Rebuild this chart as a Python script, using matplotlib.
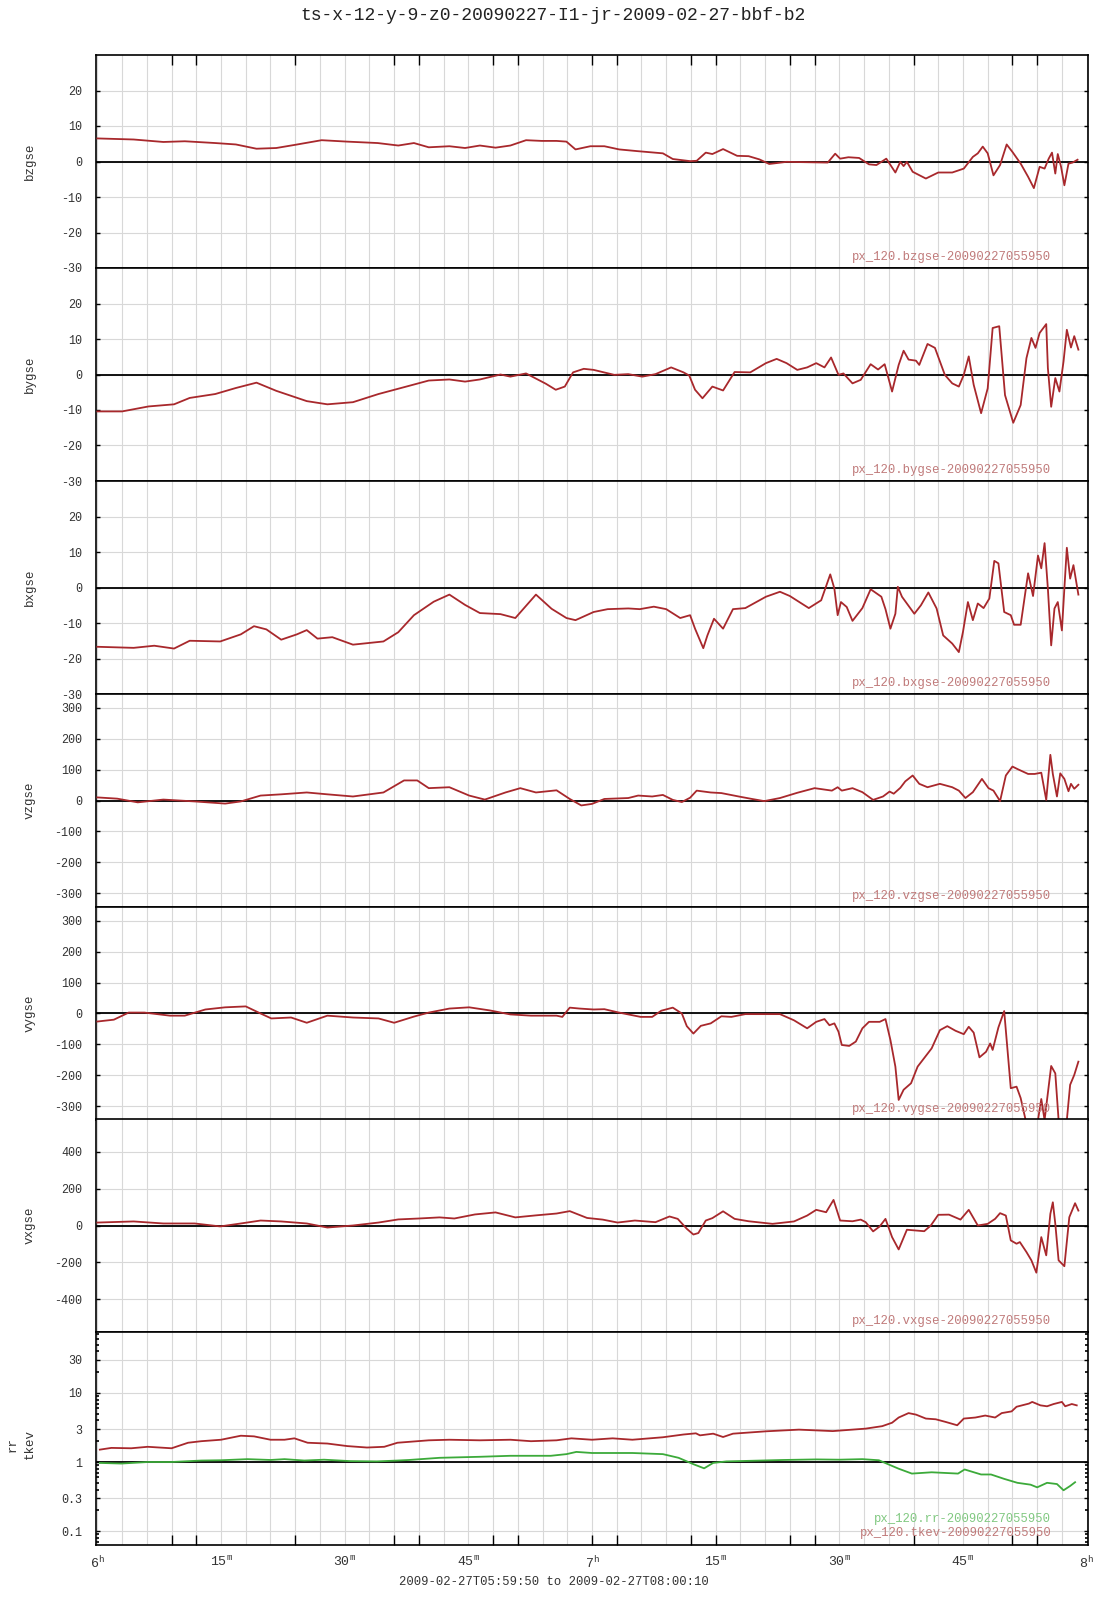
import matplotlib
matplotlib.use('Agg')
import matplotlib.pyplot as plt
from matplotlib.ticker import LogLocator, NullFormatter

plt.rcParams['font.family'] = ['Liberation Mono', 'DejaVu Sans Mono']
plt.rcParams['mathtext.fontset'] = 'custom'
plt.rcParams['mathtext.rm'] = 'Liberation Mono'
plt.rcParams['mathtext.it'] = 'Liberation Mono'

title = 'ts-x-12-y-9-z0-20090227-I1-jr-2009-02-27-bbf-b2'
xlabel = '2009-02-27T05:59:50 to 2009-02-27T08:00:10'

# time axis in minutes after 06:00
label_min = [0, 15, 30, 45, 60, 75, 90, 105, 120]
label_txt = ['6$^{\\mathrm{h}}$', '15$^{\\mathrm{m}}$', '30$^{\\mathrm{m}}$', '45$^{\\mathrm{m}}$',
             '7$^{\\mathrm{h}}$', '15$^{\\mathrm{m}}$', '30$^{\\mathrm{m}}$', '45$^{\\mathrm{m}}$',
             '8$^{\\mathrm{h}}$']
mark_min = [9, 12, 24, 36, 39, 48, 51, 60, 63, 72, 75, 84, 87, 99, 111, 114]

# bzgse
bz_t = [0, 4.4, 8, 10.6, 14.3, 16.8, 19.3, 21.7, 24, 27.2, 30.3, 34, 36.5, 38.4, 40.2, 42.7, 44.6,
        46.4, 48.3, 50.1, 52, 53.9, 55.7, 56.9, 58, 59.8, 61.5, 63.3, 65.6, 68.6, 69.8, 71.9, 72.7,
        73.8, 74.6, 75.9, 77.6, 79, 80.3, 81.5, 83.6, 88.6, 89.5, 90.1, 91.1, 92.4, 93.6, 94.5,
        95.7, 96.8, 97.4, 97.8, 98.2, 98.9, 100.5, 102, 103.7, 105.1, 106.2, 106.8, 107.4, 108,
        108.7, 109.5, 110.3, 111, 112, 112.9, 113.6, 114.3, 114.9, 115.4, 115.8, 116.2, 116.5,
        116.9, 117.3, 117.8, 118.3, 118.9]
bz_v = [6.5, 6.2, 5.5, 5.7, 5.2, 4.8, 3.6, 3.8, 4.7, 6.0, 5.6, 5.2, 4.5, 5.2, 4.0, 4.3, 3.8,
        4.5, 3.9, 4.5, 6.0, 5.8, 5.8, 5.6, 3.4, 4.3, 4.3, 3.4, 2.9, 2.3, 0.7, 0.1, 0.2,
        2.5, 2.1, 3.5, 1.6, 1.5, 0.6, -0.7, -0.1, -0.3, 2.2, 0.8, 1.2, 1.0, -0.8, -1.0,
        0.8, -3.1, -0.1, -1.3, -0.1, -2.9, -4.8, -3.1, -3.1, -2.0, 1.3, 2.3, 4.2, 2.3,
        -3.9, -1.0, 4.8, 2.7, -0.6, -4.3, -7.5, -1.5, -2.0, 0.8, 2.5, -3.4, 2.1,
        -1.5, -6.7, -0.6, -0.3, 0.5]

# bygse
by_t = [0, 3, 6.2, 9.3, 11.2, 14.3, 16.8, 19.3, 21.7, 25.4, 27.9, 31, 34.1, 37.8, 40.2, 42.7,
        44.6, 46.4, 48.9, 50.1, 52, 54.4, 55.6, 56.7, 57.7, 59, 60.2, 62.7, 64.4, 66.1, 67.7,
        69.6, 71.1, 71.8, 72.5, 73.4, 74.6, 75.9, 77.3, 79.2, 81.1, 82.4, 83.6, 84.9, 86.1,
        87.2, 88.2, 89, 89.9, 90.5, 91.6, 92.6, 93.8, 94.7, 95.5, 96.4, 97.2, 97.8, 98.4, 99.3,
        99.7, 100.7, 101.6, 102.8, 103.7, 104.5, 105.1, 105.7, 106.3, 107.2, 108, 108.6, 109.4,
        110.1, 111.1, 112, 112.7, 113.3, 113.8, 114.3, 115.1, 115.3, 115.7, 116.2, 116.7, 117.2,
        117.6, 118.1, 118.5, 119]
by_v = [-10.4, -10.4, -9, -8.4, -6.6, -5.5, -3.8, -2.3, -4.6, -7.5, -8.4, -7.8, -5.5, -3.2, -1.7, -1.4,
        -2.0, -1.4, 0, -0.6, 0.3, -2.6, -4.3, -3.4, 0.6, 1.6, 1.3, -0.1, 0.1, -0.6, 0.1,
        2.0, 0.6, -0.3, -4.3, -6.7, -3.4, -4.5, 0.7, 0.6, 3.2, 4.4, 3.2, 1.3, 2.0,
        3.2, 2.0, 4.8, -0.1, 0.3, -2.5, -1.5, 2.9, 1.4, 2.9, -4.8, 2.7, 6.7, 4.2, 3.9,
        2.7, 8.6, 7.5, -0.1, -2.5, -3.4, -0.1, 5.1, -2.9, -10.9, -3.9, 13.1, 13.6,
        -5.8, -13.6, -8.6, 4.6, 10.3, 7.5, 11.7, 14.2, 1.8, -9.1, -1.0, -4.8, 3.7,
        12.6, 7.6, 10.8, 7.0]

# bxgse
bx_t = [0, 4.4, 6.9, 9.3, 11.2, 14.9, 17.4, 19, 20.5, 22.3, 24.2, 25.4, 26.7, 28.5, 31, 34.7,
        36.5, 38.4, 40.8, 42.7, 44.6, 46.4, 48.9, 50.7, 53.2, 55.1, 56.9, 58, 60.2, 61.9, 64.4,
        65.8, 67.5, 69, 70.7, 71.9, 72.5, 73.5, 74, 74.8, 75.9, 77.1, 78.6, 81.1, 82.8, 84,
        86.3, 87.8, 88.9, 89.4, 89.8, 90.2, 90.9, 91.6, 92.8, 93.8, 95.1, 95.6, 96.2, 96.8,
        97.1, 97.6, 99.1, 99.9, 100.8, 101.8, 102.6, 103.7, 104.5, 105, 105.6, 106.2, 106.8,
        107.5, 108.2, 108.8, 109.3, 110, 110.8, 111.2, 112, 112.9, 113.5, 114.1, 114.5, 114.9,
        115.3, 115.7, 116.1, 116.5, 117, 117.3, 117.6, 118, 118.4, 119]
bx_v = [-16.7, -17, -16.4, -17.2, -15, -15.2, -13.2, -10.9, -11.8, -14.7, -13.2, -12, -14.4, -14, -16.1, -15.2,
        -12.6, -7.8, -4, -2.0, -4.9, -7.2, -7.5, -8.6, -2, -6, -8.6, -9.2, -6.9, -6.1, -5.9,
        -6.1, -5.4, -6.1, -8.6, -7.8, -11.6, -17.1, -13.5, -8.8, -11.6, -6.1, -5.8, -2.6, -1.2, -2.4,
        -5.8, -3.6, 3.7, -0.3, -7.8, -4.1, -5.5, -9.4, -5.8, -0.5, -2.6, -6.1, -11.6, -7.4,
        0.2, -2.6, -7.4, -5.0, -1.4, -5.9, -13.5, -15.8, -18.2, -12.5, -4.1, -9.2, -4.5,
        -5.8, -3.1, 7.5, 6.8, -6.9, -7.8, -10.5, -10.5, 4, -2.4, 9, 5.4, 12.5,
        -0.3, -16.3, -5.9, -4.1, -12.1, -0.3, 11.2, 2.5, 6.3, -2.0]

# vzgse
vz_t = [0, 2.4, 4.9, 8, 11.8, 15.5, 17.4, 19.8, 22.3, 25.4, 27.9, 31, 34.7, 37.2, 38.8, 40.2,
        42.7, 45.1, 47, 49.5, 51.3, 53.2, 55.7, 57.3, 58.7, 60, 61.5, 64.4, 65.6, 67.3, 68.6,
        69.8, 70.9, 71.9, 72.7, 74.4, 75.7, 77.8, 79.4, 80.9, 82.8, 84.9, 87, 89.1, 89.8, 90.3,
        91.6, 92.8, 94.1, 95.3, 96.1, 96.6, 97.4, 98, 98.9, 99.7, 100.7, 102.2, 103.7, 104.5,
        105.3, 106.2, 107.3, 108.1, 108.7, 109.5, 110.2, 111, 111.6, 112.9, 113.7, 114.5, 115.1,
        115.6, 115.9, 116.4, 116.8, 117.3, 117.8, 118.1, 118.5, 119]
vz_v = [10, 6, -6, 3, -3, -10, -3, 16, 20, 26, 20, 13, 26, 65, 65, 40,
        43, 16, 3, 26, 40, 26, 33, 5, -16, -11, 5, 8, 16, 13, 18,
        2, -5, 9, 32, 26, 24, 13, 5, -2, 8, 25, 40, 32, 43, 32,
        40, 27, 2, 13, 29, 22, 41, 62, 81, 54, 43, 54, 43, 32,
        8, 27, 70, 40, 32, -2, 81, 110, 102, 86, 86, 90, 2,
        148, 86, 13, 88, 70, 30, 54, 38, 51]

# vygse
vy_t = [0, 2, 3.8, 5.7, 8.8, 10.6, 13.1, 15.5, 18, 19.8, 21.1, 23.5, 25.4, 27.9, 31, 34.1, 36,
        38.4, 40.2, 42.7, 45.1, 47.6, 50.1, 52.6, 55.7, 56.4, 57.3, 58.5, 60.2, 61.5, 63.1, 65.9,
        67.3, 68.4, 69.8, 70.9, 71.5, 72.3, 73.2, 74.4, 75.7, 76.9, 78.6, 82.8, 84.5, 86.1, 87.2,
        88.2, 88.8, 89.4, 89.9, 90.3, 91.2, 92, 92.8, 93.6, 94.9, 95.6, 96.2, 96.8, 97.2, 97.8,
        98.7, 99.5, 101.2, 102.2, 103.1, 104.1, 105.1, 105.7, 106.3, 107, 107.8, 108.3, 108.6,
        109.3, 110, 110.3, 110.8, 111.5, 112, 112.6, 114.1, 114.5, 114.9, 115.7, 116.2, 116.6,
        117.6, 118, 118.5, 119]
vy_v = [-26, -20, 3, 3, -7, -7, 13, 20, 23, 0, -16, -13, -30, -7, -13, -16, -30,
        -10, 3, 16, 20, 10, -3, -7, -7, -11, 19, 16, 13, 14, 4, -11,
        -11, 9, 19, 0, -41, -65, -40, -32, -9, -11, -2, -2, -22, -48, -27,
        -18, -38, -32, -59, -102, -105, -91, -48, -27, -27, -18, -86, -172, -280, -247,
        -226, -172, -113, -54, -41, -56, -67, -43, -62, -142, -124, -97, -118,
        -45, 8, -86, -242, -237, -274, -345, -345, -277, -345, -170, -194, -345,
        -345, -231, -199, -156]

# vxgse
vx_t = [0, 4.4, 8, 11.8, 14.9, 17.4, 19.8, 22.3, 25.4, 27.9, 31, 34.1, 36.5, 39, 41.5, 43.3,
        45.8, 48.3, 50.7, 53.2, 55.7, 57.3, 59.4, 61.3, 63.1, 65.2, 67.7, 69.4, 70.4, 71.5, 72.3,
        72.9, 73.8, 74.6, 75.9, 77.3, 79, 81.9, 84.5, 86.1, 87.2, 88.4, 89.3, 90.1, 91.6, 92.6,
        93.2, 94.1, 94.9, 95.6, 96.4, 97.2, 98.2, 100.3, 101.1, 102, 103.3, 104.7, 105.7, 106.8,
        108, 108.9, 109.5, 110.2, 110.8, 111.5, 111.9, 112.7, 113.3, 113.9, 114.5, 115.1, 115.6,
        115.9, 116.2, 116.6, 117.3, 117.9, 118.6, 119]
vx_v = [16, 22, 11, 11, -5, 11, 27, 22, 11, -11, 0, 16, 33, 38, 44, 38,
        60, 71, 44, 55, 65, 78, 41, 32, 16, 27, 18, 49, 36, -18, -49,
        -41, 27, 40, 77, 36, 23, 9, 22, 54, 85, 72, 139, 27, 23, 32,
        18, -32, -5, 36, -63, -130, -23, -31, 0, 58, 59, 32, 85, 0,
        9, 36, 67, 54, -81, -99, -90, -144, -189, -256, -63, -162, 63,
        126, 9, -189, -221, 45, 121, 81]

# tkev and rr (log panel)
tk_t = [0.3, 1.7, 4.1, 6.1, 9, 11, 12.6, 15, 17.4, 19, 21, 22.7, 23.9, 25.5, 27.9, 30.3, 32.7,
        34.8, 36.4, 40.2, 42.7, 46.4, 50.1, 52.6, 55.7, 57.5, 60, 62.5, 64.9, 68.6, 71.1, 72.6,
        73.1, 74.7, 75.9, 77.1, 81.1, 85.1, 89.2, 93.2, 95.2, 96.4, 97.2, 98.4, 99.3, 100.5,
        101.7, 102.9, 104.3, 105.1, 106.5, 107.7, 108.9, 109.7, 110.9, 111.5, 113, 113.4,
        114.4, 115.2, 116, 117, 117.4, 118.2, 118.8]
tk_v = [1.51, 1.6, 1.58, 1.66, 1.58, 1.9, 2.0, 2.1, 2.4, 2.35, 2.1, 2.1, 2.2, 1.9, 1.85, 1.7, 1.62,
        1.66, 1.9, 2.06, 2.1, 2.06, 2.1, 2.0, 2.06, 2.2, 2.1, 2.2, 2.1, 2.28, 2.5, 2.6,
        2.43, 2.57, 2.3, 2.57, 2.78, 2.94, 2.8, 3.04, 3.3, 3.7, 4.4, 5.1, 4.85, 4.25,
        4.15, 3.8, 3.4, 4.25, 4.4, 4.7, 4.4, 5.1, 5.4, 6.3, 7.0, 7.4,
        6.6, 6.4, 6.9, 7.4, 6.4, 6.9, 6.6]
rr_t = [0.3, 2.9, 6.1, 9, 12.6, 15, 18.2, 21, 22.7, 25.1, 27.5, 30.7, 33.9, 36.4, 37.8, 41.5,
        46.4, 50.1, 55, 56.9, 58.1, 60, 64.9, 68.6, 70.5, 72.3, 73.6, 74.7, 76.3, 79.1, 83.2,
        87.2, 90, 92.8, 94.8, 96, 97.2, 98.8, 101.2, 104.4, 105.2, 107.2, 108.4, 110, 111.6,
        113.2, 114, 115.2, 116.4, 117.2, 118, 118.6]
rr_v = [0.97, 0.95, 1.0, 1.0, 1.05, 1.06, 1.1, 1.07, 1.1, 1.05, 1.08, 1.03, 1.02, 1.05, 1.07, 1.15,
        1.19, 1.23, 1.23, 1.3, 1.4, 1.35, 1.35, 1.3, 1.15, 0.93, 0.81, 0.97, 1.02, 1.04, 1.07,
        1.09, 1.08, 1.1, 1.06, 0.92, 0.8, 0.68, 0.71, 0.68, 0.78, 0.66, 0.66, 0.57, 0.5,
        0.47, 0.43, 0.5, 0.48, 0.39, 0.45, 0.51]

lin_panels = [
    ('bzgse', bz_t, bz_v, (-30, 30), [-30, -20, -10, 0, 10, 20]),
    ('bygse', by_t, by_v, (-30, 30), [-30, -20, -10, 0, 10, 20]),
    ('bxgse', bx_t, bx_v, (-30, 30), [-30, -20, -10, 0, 10, 20]),
    ('vzgse', vz_t, vz_v, (-345, 345), [-300, -200, -100, 0, 100, 200, 300]),
    ('vygse', vy_t, vy_v, (-345, 345), [-300, -200, -100, 0, 100, 200, 300]),
    ('vxgse', vx_t, vx_v, (-578, 578), [-400, -200, 0, 200, 400]),
]

RED = '#a8282c'
RED_TXT = '#c07a7a'
GREEN = '#3caa3a'
GREEN_TXT = '#80c880'
GRID = '#d8d8d8'
TXT = '#333333'
tag = '-20090227055950'

W, H = 1107, 1600
x0, x1 = 96, 1088
tops = [55, 268, 481, 694, 907, 1119, 1332]
ph = 213

fig = plt.figure(figsize=(W / 100, H / 100), dpi=100)
fig.patch.set_facecolor('white')


def setup(ax, yticks, ylabels):
    ax.set_xlim(-10 / 60, 120 + 10 / 60)
    for m in range(0, 121, 3):
        ax.axvline(m, color=GRID, lw=0.8, zorder=0)
    for y in yticks:
        ax.axhline(y, color=GRID, lw=0.8, zorder=0)
    ax.set_yticks(yticks, ylabels)
    ax.tick_params(axis='y', direction='in', length=3, width=1, left=True, right=True,
                   labelsize=8.5, labelcolor=TXT, pad=10)
    ax.xaxis.remove_overlapping_locs = False
    ax.set_xticks(mark_min)
    ax.tick_params(axis='x', which='major', direction='in', length=7, width=1,
                   top=False, bottom=False, labelbottom=False)
    for s in ax.spines.values():
        s.set_linewidth(1.2)
        s.set_color('black')


axes = []
for i in range(7):
    ax = fig.add_axes([x0 / W, 1 - (tops[i] + ph) / H, (x1 - x0) / W, ph / H])
    axes.append(ax)

for i, (name, t, v, lim, yt) in enumerate(lin_panels):
    ax = axes[i]
    setup(ax, yt, [str(y) for y in yt])
    ax.set_ylim(*lim)
    ax.axhline(0, color='black', lw=1.3, zorder=2)
    ax.plot(t, v, color=RED, lw=1.3, zorder=3)
    ax.text(0.963, 0.052, 'px_120.' + name + tag, transform=ax.transAxes,
            ha='right', va='center', fontsize=8.8, color=RED_TXT)
    fig.text(30 / W, 1 - (tops[i] + ph / 2) / H, name, rotation=90,
             ha='center', va='center', fontsize=9, color=TXT)

axes[0].tick_params(axis='x', which='major', top=True)

# log panel
ax = axes[6]
ax.set_yscale('log')
setup(ax, [0.1, 0.3, 1, 3, 10, 30], ['0.1', '0.3', '1', '3', '10', '30'])
ax.set_ylim(0.063, 76)
ax.yaxis.set_minor_locator(LogLocator(base=10, subs=range(2, 10)))
ax.yaxis.set_minor_formatter(NullFormatter())
ax.tick_params(axis='y', which='minor', direction='in', length=2, width=1.2,
               left=True, right=True)
ax.axhline(1, color='black', lw=1.3, zorder=2)
ax.plot(rr_t, rr_v, color=GREEN, lw=1.3, zorder=3)
ax.plot(tk_t, tk_v, color=RED, lw=1.3, zorder=3)
ax.text(0.963, 0.122, 'px_120.rr' + tag, transform=ax.transAxes,
        ha='right', va='center', fontsize=8.8, color=GREEN_TXT)
ax.text(0.963, 0.056, 'px_120.tkev' + tag, transform=ax.transAxes,
        ha='right', va='center', fontsize=8.8, color=RED_TXT)
ax.tick_params(axis='x', which='major', bottom=True)
ax.set_xticks(label_min, label_txt, minor=True)
ax.tick_params(axis='x', which='minor', length=0, labelsize=9.5, labelcolor=TXT,
               pad=7, labelbottom=True)
fig.text(13 / W, 1 - 1444 / H, 'rr', rotation=90, ha='center', va='center',
         fontsize=9, color=TXT)
fig.text(30 / W, 1 - 1444 / H, 'tkev', rotation=90, ha='center', va='center',
         fontsize=9, color=TXT)

fig.text(0.5, 1 - 1582 / H, xlabel, ha='center', va='center', fontsize=8.8, color=TXT)
fig.text(0.5, 1 - 15 / H, title, ha='center', va='center', fontsize=13, color='#222222')

fig.savefig('out.png', dpi=100)
